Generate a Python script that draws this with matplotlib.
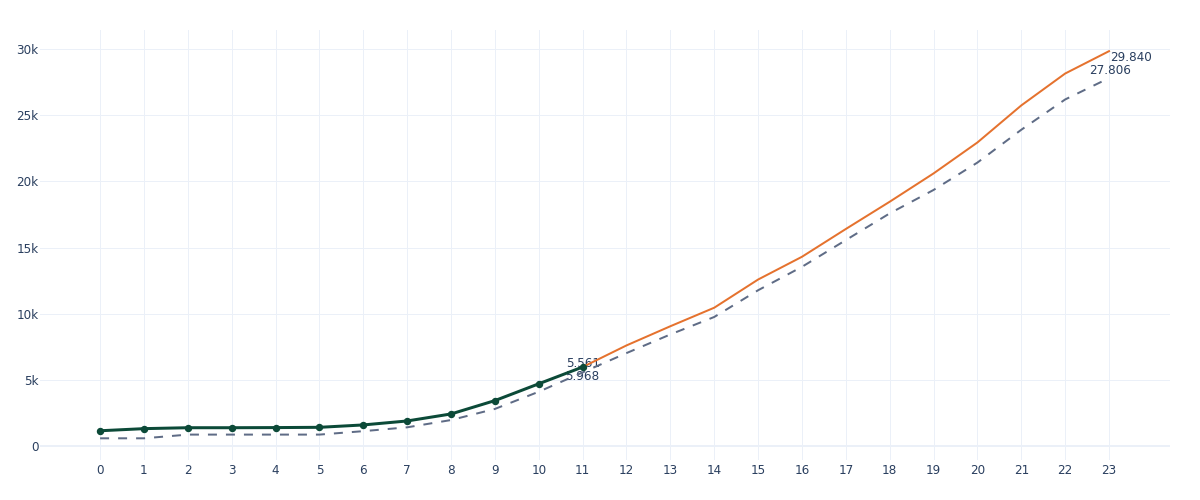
import matplotlib
matplotlib.use("Agg")
import matplotlib.pyplot as plt

# ---- data ----
hist_x = [0, 1, 2, 3, 4, 5, 6, 7, 8, 9, 10, 11]
hist_y = [1150, 1310, 1380, 1380, 1390, 1410, 1590, 1890, 2420, 3430, 4700, 5968]

fc_x = [11, 12, 13, 14, 15, 16, 17, 18, 19, 20, 21, 22, 23]
fc_y = [5968, 7600, 9050, 10450, 12580, 14300, 16400, 18460, 20600, 22940, 25740, 28150, 29840]

base_x = list(range(24))
base_y = [580, 580, 860, 860, 860, 860, 1120, 1410, 1960, 2800, 4100, 5561,
          7020, 8430, 9750, 11770, 13540, 15560, 17580, 19350, 21420, 23900, 26190, 27806]

x_ticks = list(range(24))
y_ticks = [0, 5000, 10000, 15000, 20000, 25000, 30000]
y_tick_labels = ["0", "5k", "10k", "15k", "20k", "25k", "30k"]

# ---- style ----
PX = 0.72  # points per pixel at dpi 100
plt.rcParams['font.family'] = ['DejaVu Sans']
plt.rcParams['lines.scale_dashes'] = False
TXT = '#2a3f5f'
GRID = '#EBF0F8'
ORANGE = '#E5722E'
SLATE = '#5F6C86'
GREEN = '#0C4A38'

fig = plt.figure(figsize=(12, 5), dpi=100)
ax = fig.add_axes([40 / 1200, 40 / 500, 1130 / 1200, 430 / 500])

ax.set_xlim(-1.37, 24.39)
ax.set_ylim(-1060, 31440)

for s in ax.spines.values():
    s.set_visible(False)
ax.set_xticks(x_ticks)
ax.set_xticklabels([str(v) for v in x_ticks])
ax.set_yticks(y_ticks)
ax.set_yticklabels(y_tick_labels)
ax.tick_params(axis='both', length=0, labelsize=12 * PX, labelcolor=TXT)
ax.tick_params(axis='y', pad=1)
ax.tick_params(axis='x', pad=3)
ax.grid(True, color=GRID, linewidth=1 * PX, zorder=0)
ax.set_axisbelow(True)
ax.axhline(0, color=GRID, linewidth=2 * PX, zorder=0.5)

# lines
ax.plot(base_x, base_y, color=SLATE, linewidth=2 * PX, dashes=(9 * PX, 9 * PX), zorder=2)
ax.plot(fc_x, fc_y, color=ORANGE, linewidth=2 * PX, zorder=3)
ax.plot(hist_x, hist_y, color=GREEN, linewidth=3 * PX, marker='o',
        markersize=6 * PX, zorder=4)

# labels
fs = 12 * PX
ax.annotate(f"{base_y[11]/1000:.3f}", (base_x[11], base_y[11]), xytext=(0, 8.4 * PX),
            textcoords='offset points', ha='center', va='center', fontsize=fs, color=TXT, zorder=1)
ax.annotate(f"{hist_y[-1]/1000:.3f}", (hist_x[-1], hist_y[-1]), xytext=(0, -9 * PX),
            textcoords='offset points', ha='center', va='center', fontsize=fs, color=TXT, zorder=1)
ax.annotate(f"{base_y[-1]/1000:.3f}", (base_x[-1], base_y[-1]), xytext=(1 * PX, 8 * PX),
            textcoords='offset points', ha='center', va='center', fontsize=fs, color=TXT, zorder=1)
ax.annotate(f"{fc_y[-1]/1000:.3f}", (fc_x[-1], fc_y[-1]), xytext=(1 * PX, -6 * PX),
            textcoords='offset points', ha='left', va='center', fontsize=fs, color=TXT, zorder=1)

fig.savefig("out.png", dpi=100, facecolor='white')
